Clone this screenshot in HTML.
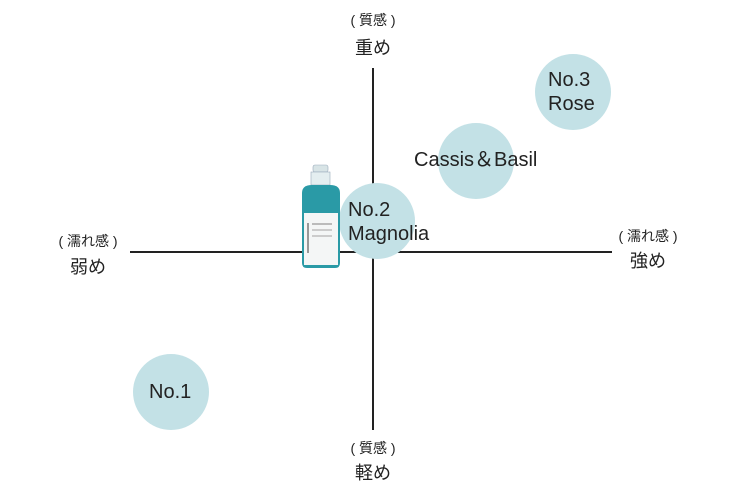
<!DOCTYPE html>
<html><head><meta charset="utf-8"><style>
body{margin:0;width:740px;height:490px;background:#fff;position:relative;overflow:hidden;font-family:"Liberation Sans","Noto Sans CJK JP",sans-serif;color:#222}
.t{position:absolute;text-align:center;transform:translateX(-50%);white-space:nowrap}
.s{font-size:14px}.b{font-size:18px}
.c{position:absolute;width:76px;height:76px;border-radius:50%;background:#c3e1e6}
.l{position:absolute;font-size:20px;line-height:24px;white-space:nowrap;color:#222}
</style></head><body>
<div style="position:absolute;left:372px;top:68px;width:1.5px;height:362px;background:#222"></div>
<div style="position:absolute;left:130px;top:251px;width:482px;height:1.5px;background:#222"></div>
<div class="c" style="left:535px;top:54px"></div>
<div class="c" style="left:438px;top:123px"></div>
<div class="c" style="left:339px;top:183px"></div>
<div class="c" style="left:133px;top:354px"></div>
<svg style="position:absolute;left:298px;top:163px" width="46" height="108">
<rect x="15" y="2" width="15" height="7" rx="2" fill="#d8e4e6" stroke="#9ab" stroke-width="0.6"/>
<rect x="13" y="9" width="19" height="13" fill="#e4eef0" stroke="#9ab" stroke-width="0.6"/>
<path d="M4 30 Q4 22 14 22 L32 22 Q42 22 42 30 L42 100 Q42 105 37 105 L9 105 Q4 105 4 100Z" fill="#2a9aa6"/>
<rect x="6" y="50" width="34" height="52" fill="#f4f6f6"/>
<rect x="14" y="60" width="20" height="2" fill="#bbb"/><rect x="14" y="66" width="20" height="2" fill="#ccc"/><rect x="14" y="72" width="20" height="2" fill="#ccc"/>
<rect x="9" y="60" width="2" height="30" fill="#999"/>
</svg>
<div class="l" style="left:348px;top:198px">No.2<br>Magnolia</div>
<div class="l" style="left:548px;top:68px">No.3<br>Rose</div>
<div class="l" style="left:414px;top:148px">Cassis＆Basil</div>
<div class="l" style="left:149px;top:380px">No.1</div>
<div class="t s" style="left:373px;top:10px">( 質感 )</div>
<div class="t b" style="left:373px;top:34px">重め</div>
<div class="t s" style="left:373px;top:438px">( 質感 )</div>
<div class="t b" style="left:373px;top:459px">軽め</div>
<div class="t s" style="left:88px;top:231px">( 濡れ感 )</div>
<div class="t b" style="left:88px;top:253px">弱め</div>
<div class="t s" style="left:648px;top:226px">( 濡れ感 )</div>
<div class="t b" style="left:648px;top:247px">強め</div>
</body></html>
